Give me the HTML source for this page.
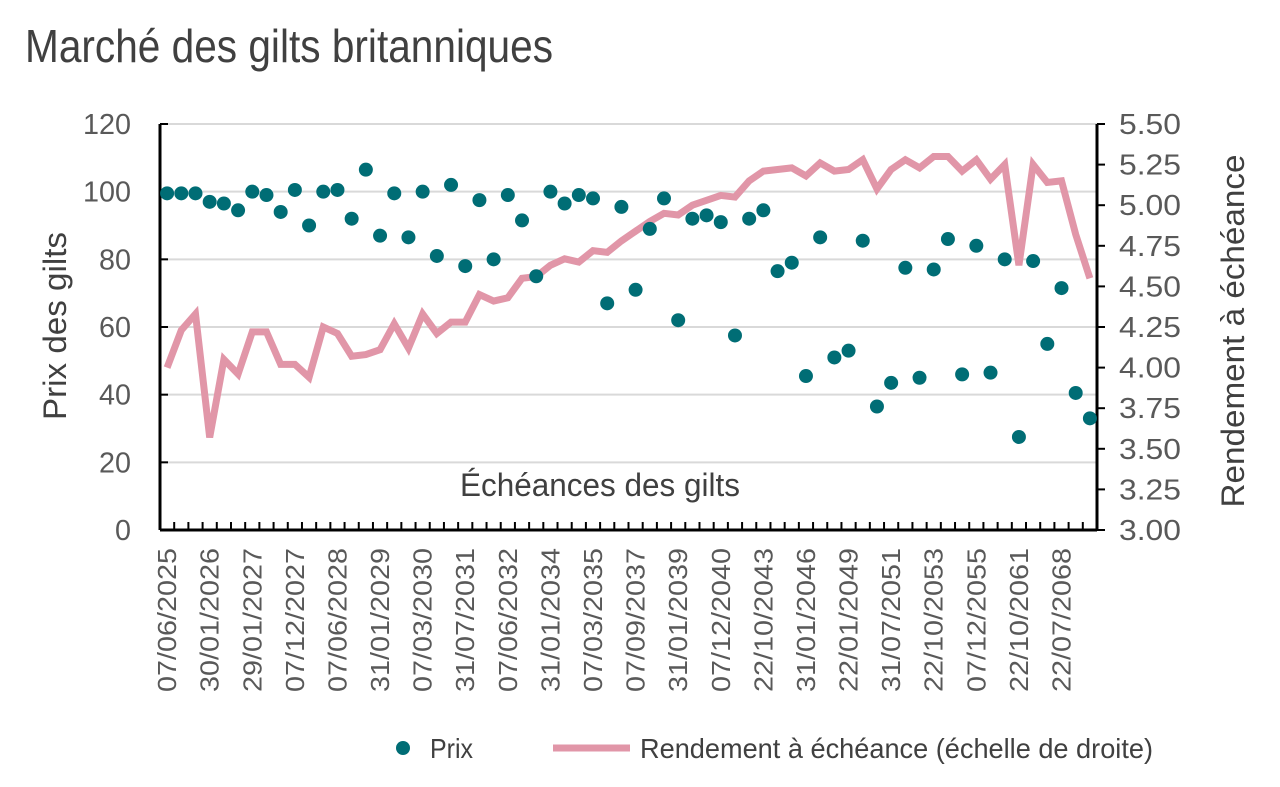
<!DOCTYPE html>
<html><head><meta charset="utf-8"><style>
html,body{margin:0;padding:0;background:#fff;}
svg{display:block;font-family:"Liberation Sans Narrow","Liberation Sans",sans-serif;}
</style></head><body>
<svg id="chart" width="1280" height="787" viewBox="0 0 1280 787">
<text x="25" y="62" font-size="46" fill="#404040" textLength="528" lengthAdjust="spacingAndGlyphs">Marché des gilts britanniques</text>
<g id="grid"></g><g id="axes"></g><g id="marks"></g>
<rect x="452" y="466" width="300" height="40" fill="#fff"/>
<text x="600" y="496" font-size="32" fill="#404040" text-anchor="middle" textLength="280" lengthAdjust="spacingAndGlyphs">Échéances des gilts</text>
<text transform="translate(66,326) rotate(-90)" font-size="32" fill="#404040" text-anchor="middle" textLength="188" lengthAdjust="spacingAndGlyphs">Prix des gilts</text>
<text transform="translate(1244,331) rotate(-90)" font-size="32" fill="#404040" text-anchor="middle" textLength="353" lengthAdjust="spacingAndGlyphs">Rendement à échéance</text>
<g>
<circle cx="403" cy="748" r="7" fill="#006D75"/>
<text x="430" y="758" font-size="28" fill="#404040" textLength="43" lengthAdjust="spacingAndGlyphs">Prix</text>
<line x1="553" y1="748" x2="630" y2="748" stroke="#E196A8" stroke-width="7"/>
<text x="640" y="758" font-size="28" fill="#404040" textLength="513" lengthAdjust="spacingAndGlyphs">Rendement à échéance (échelle de droite)</text>
</g>
</svg>
<script>
const prices=[99.5,99.5,99.5,97,96.5,94.5,100,99,94,100.5,90,100,100.5,92,106.5,87,99.5,86.5,100,81,102,78,97.5,80,99,91.5,75,100,96.5,99,98,67,95.5,71,89,98,62,92,93,91,57.5,92,94.5,76.5,79,45.5,86.5,51,53,85.5,36.5,43.5,77.5,45,77,86,46,84,46.5,80,27.5,79.5,55,71.5,40.5,33];
const yields=[4.00,4.23,4.33,3.57,4.05,3.96,4.22,4.22,4.02,4.02,3.94,4.25,4.21,4.07,4.08,4.11,4.27,4.12,4.33,4.21,4.28,4.28,4.45,4.41,4.43,4.55,4.56,4.63,4.67,4.65,4.72,4.71,4.78,4.84,4.90,4.95,4.94,5.00,5.03,5.06,5.05,5.15,5.21,5.22,5.23,5.18,5.26,5.21,5.22,5.28,5.10,5.22,5.28,5.23,5.30,5.30,5.21,5.28,5.16,5.25,4.63,5.25,5.14,5.15,4.82,4.55];
const dateLabels=["07/06/2025","30/01/2026","29/01/2027","07/12/2027","07/06/2028","31/01/2029","07/03/2030","31/07/2031","07/06/2032","31/01/2034","07/03/2035","07/09/2037","31/01/2039","07/12/2040","22/10/2043","31/01/2046","22/01/2049","31/07/2051","22/10/2053","07/12/2055","22/10/2061","22/07/2068"];
const leftTicks=[0,20,40,60,80,100,120];
const rightTicks=[3.00,3.25,3.50,3.75,4.00,4.25,4.50,4.75,5.00,5.25,5.50];

const NS="http://www.w3.org/2000/svg";
const X0=160,X1=1097,Y0=530,Y1=124;
const n=prices.length, band=(X1-X0)/n;
const xc=i=>X0+band*(i+0.5);
const yL=v=>Y0-(v-0)/(120-0)*(Y0-Y1);
const yR=v=>Y0-(v-3)/(5.5-3)*(Y0-Y1);
function mk(tag,attrs,parent){const e=document.createElementNS(NS,tag);for(const k in attrs)e.setAttribute(k,attrs[k]);parent.appendChild(e);return e;}
const grid=document.getElementById('grid'),axes=document.getElementById('axes'),marks=document.getElementById('marks');
leftTicks.forEach(v=>{
  if(v>0){const g=mk('line',{x1:X0,x2:X1,y1:yL(v),y2:yL(v),stroke:'#d9d9d9','stroke-width':2},grid);
  
  }
  const t=mk('line',{x1:X0,x2:X0+8,y1:yL(v),y2:yL(v),stroke:'#000','stroke-width':2},axes);
  
  
  const s=String(v);
  const l=mk('text',{x:131,y:yL(v)+10,'font-size':29,fill:'#595959','text-anchor':'end',textLength:s.length*16,lengthAdjust:'spacingAndGlyphs'},axes);
  l.textContent=s;
  
  
});
rightTicks.forEach(v=>{
  const t=mk('line',{x1:X1,x2:X1+8,y1:yR(v),y2:yR(v),stroke:'#000','stroke-width':2},axes);
  
  
  const l=mk('text',{x:1119,y:yR(v)+10,'font-size':29,fill:'#595959',textLength:62,lengthAdjust:'spacingAndGlyphs'},axes);
  l.textContent=v.toFixed(2);
  
  
});
const la=mk('line',{x1:X0,x2:X0,y1:Y1,y2:Y0,stroke:'#000','stroke-width':3},axes);


const ra=mk('line',{x1:X1,x2:X1,y1:Y1,y2:Y0,stroke:'#000','stroke-width':3},axes);


const xa=mk('line',{x1:X0,x2:X1,y1:Y0,y2:Y0,stroke:'#000','stroke-width':3},axes);


for(let i=1;i<n;i++){
  const t=mk('line',{x1:X0+band*i,x2:X0+band*i,y1:Y0,y2:Y0-8,stroke:'#000','stroke-width':2},axes);
  
  
}
dateLabels.forEach((d,k)=>{
  const x=xc(k*3)+9;
  const t=mk('text',{transform:`translate(${x},548) rotate(-90)`,'font-size':26,fill:'#595959','text-anchor':'end',textLength:144,lengthAdjust:'spacingAndGlyphs'},axes);
  t.textContent=d;
  
  
});
const p=mk('polyline',{points:yields.map((v,i)=>xc(i)+','+yR(v)).join(' '),fill:'none',stroke:'#E196A8','stroke-width':7,'stroke-linejoin':'miter'},marks);


prices.forEach((v,i)=>{
  const c=mk('circle',{cx:xc(i),cy:yL(v),r:7,fill:'#006D75'},marks);
  
  
});
</script>
</body></html>
